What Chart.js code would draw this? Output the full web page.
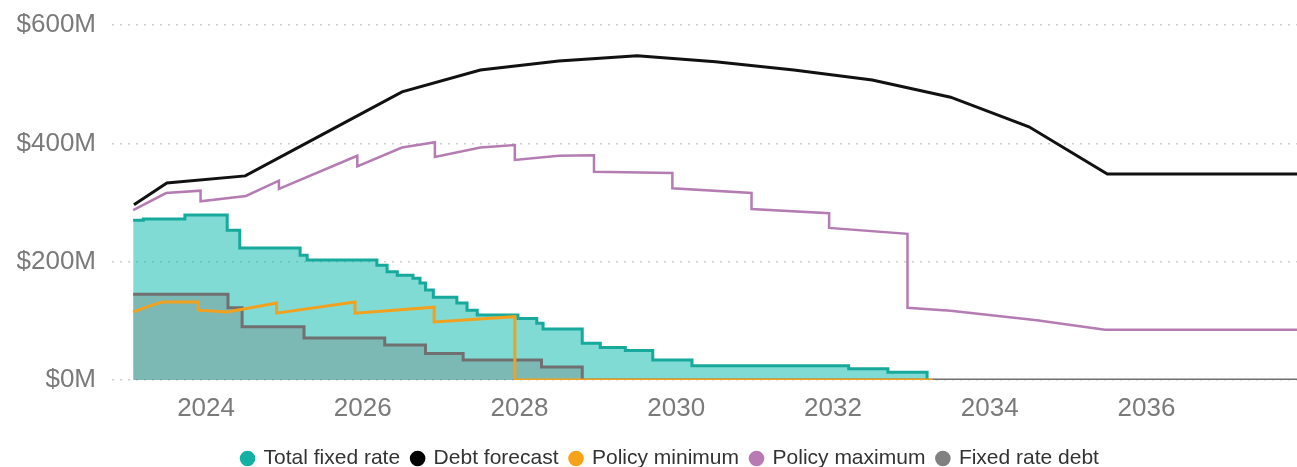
<!DOCTYPE html>
<html>
<head>
<meta charset="utf-8">
<script src="https://cdn.jsdelivr.net/npm/chart.js@4"></script>
<style>
  html, body { margin: 0; padding: 0; background: #fff; overflow: hidden; }
  #wrap { position: relative; width: 1297px; height: 479px; }
</style>
</head>
<body>
<div id="wrap"><canvas id="debtChart"></canvas></div>
<script>
// values in $M, x positions in decimal years
const xTickYears = [2024, 2026, 2028, 2030, 2032, 2034, 2036];
const yTicks = [0, 200, 400, 600];

const debtYears = [2023.08, 2023.5, 2024.5, 2025.5, 2026.5, 2027.5, 2028.5, 2029.5, 2030.5, 2031.5, 2032.5, 2033.5, 2034.5, 2035.5, 2036.5, 2037.92];
const debtForecast = [296, 333, 345, 416, 487, 524, 539, 548, 538, 524, 507, 478, 428, 348, 348, 348];

const totalFixedYears = [2023.07, 2023.2, 2023.73, 2024.27, 2024.43, 2025.2, 2025.29, 2026.18, 2026.31, 2026.44, 2026.64, 2026.73, 2026.8, 2026.9, 2027.2, 2027.33, 2027.46, 2027.98, 2028.22, 2028.3, 2028.8, 2029.03, 2029.35, 2029.7, 2030.2, 2032.2, 2032.7, 2033.2];
const totalFixedRate = [270, 272, 279, 253, 223, 211, 203, 194, 183, 177, 172, 164, 152, 140, 130, 118, 110, 104, 96, 86, 62, 55, 50, 34, 24, 19, 13, 0];

const fixedDebtYears = [2023.07, 2024.28, 2024.46, 2025.25, 2026.28, 2026.8, 2027.28, 2028.28, 2028.8, 2037.92];
const fixedRateDebt = [145, 122, 90, 71, 59, 45, 34, 22, 0, 0];

const policyMinYears = [2023.07, 2023.32, 2023.45, 2023.9, 2023.9, 2024.27, 2024.9, 2024.9, 2025.9, 2025.9, 2026.91, 2026.91, 2027.94, 2027.94, 2033.27];
const policyMinimum = [115, 127, 132, 132, 118, 115, 130, 113, 132, 113, 123, 98, 107, 0, 0];

const policyMaxYears = [2023.07, 2023.49, 2023.93, 2023.93, 2024.51, 2024.93, 2024.93, 2025.93, 2025.93, 2026.5, 2026.92, 2026.92, 2027.5, 2027.94, 2027.94, 2028.5, 2028.95, 2028.95, 2029.95, 2029.95, 2030.96, 2030.96, 2031.95, 2031.95, 2032.95, 2032.95, 2033.5, 2034.6, 2035.47, 2037.92];
const policyMaximum = [287, 316, 320, 302, 311, 337, 323, 379, 361, 393, 402, 377, 393, 397, 372, 379, 380, 352, 350, 324, 316, 289, 282, 257, 247, 122, 117, 101, 85, 85];

function toPoints(xs, ys) {
    return xs.map(function (x, i) { return { x: x, y: ys[i] }; });
}

// nudge the legend row a little to the right, like the original
const legendShift = {
    id: 'legendShift',
    afterLayout: function (chart) {
        if (chart.legend) {
            chart.legend.left += 22;
            chart.legend.right += 22;
        }
    }
};

const ctx = document.getElementById('debtChart').getContext('2d');
const chart = new Chart(ctx, {
    type: 'line',
    plugins: [legendShift],
    data: {
        datasets: [
            {
                label: 'Total fixed rate',
                data: toPoints(totalFixedYears, totalFixedRate),
                borderColor: '#17a99b',
                backgroundColor: 'rgba(1, 184, 170, 0.5)',
                legendColor: '#14b0a3',
                borderWidth: 3,
                stepped: true,
                fill: 'origin',
                order: 5
            },
            {
                label: 'Debt forecast',
                data: toPoints(debtYears, debtForecast),
                borderColor: '#111111',
                backgroundColor: '#111111',
                legendColor: '#000000',
                borderWidth: 3,
                fill: false,
                order: 1
            },
            {
                label: 'Policy minimum',
                data: toPoints(policyMinYears, policyMinimum),
                borderColor: '#f2a11f',
                backgroundColor: '#f2a11f',
                legendColor: '#f7a21b',
                borderWidth: 3,
                fill: false,
                order: 3
            },
            {
                label: 'Policy maximum',
                data: toPoints(policyMaxYears, policyMaximum),
                borderColor: '#b47cb2',
                backgroundColor: '#b47cb2',
                legendColor: '#b77ab5',
                borderWidth: 2.5,
                fill: false,
                order: 2
            },
            {
                label: 'Fixed rate debt',
                data: toPoints(fixedDebtYears, fixedRateDebt),
                borderColor: '#707070',
                backgroundColor: 'rgba(120, 120, 120, 0.35)',
                legendColor: '#808080',
                borderWidth: 3,
                stepped: true,
                fill: 'origin',
                order: 4
            }
        ]
    },
    options: {
        responsive: true,
        maintainAspectRatio: false,
        animation: false,
        layout: { padding: { top: 25, right: 0, left: 0, bottom: 0 } },
        elements: { point: { radius: 0 }, line: { tension: 0 } },
        plugins: {
            tooltip: { enabled: false },
            legend: {
                position: 'bottom',
                labels: {
                    usePointStyle: true,
                    pointStyle: 'circle',
                    boxWidth: 11,
                    boxHeight: 11,
                    padding: 12,
                    color: '#333333',
                    font: { family: 'Liberation Sans, Arial, sans-serif', size: 21 },
                    sort: function (a, b) { return a.datasetIndex - b.datasetIndex; },
                    generateLabels: function (chart) {
                        const items = Chart.defaults.plugins.legend.labels.generateLabels(chart);
                        items.forEach(function (item) {
                            const ds = chart.data.datasets[item.datasetIndex];
                            item.fillStyle = ds.legendColor;
                            item.strokeStyle = ds.legendColor;
                            item.lineWidth = 0;
                        });
                        return items;
                    }
                }
            }
        },
        scales: {
            x: {
                type: 'linear',
                min: 2022.8,
                max: 2037.92,
                grid: { display: false, drawTicks: false },
                border: { display: false },
                afterBuildTicks: function (scale) {
                    scale.ticks = xTickYears.map(function (v) { return { value: v }; });
                },
                afterFit: function (scale) {
                    scale.height = 56;
                    scale.paddingLeft = 0;
                    scale.paddingRight = 0;
                },
                ticks: {
                    padding: 13,
                    color: '#7a7a7a',
                    font: { family: 'Liberation Sans, Arial, sans-serif', size: 26 },
                    callback: function (v) { return String(v); }
                }
            },
            y: {
                min: 0,
                max: 600,
                afterBuildTicks: function (scale) {
                    scale.ticks = yTicks.map(function (v) { return { value: v }; });
                },
                afterFit: function (scale) {
                    scale.width = 112;
                    scale.paddingTop = 0;
                    scale.paddingBottom = 0;
                },
                grid: { color: '#cfcfcf', lineWidth: 1.5, drawTicks: false },
                border: { display: false, dash: [2, 6] },
                ticks: {
                    padding: 16,
                    color: '#7a7a7a',
                    font: { family: 'Liberation Sans, Arial, sans-serif', size: 26 },
                    callback: function (v) { return '$' + v + 'M'; }
                }
            }
        }
    }
});
</script>
</body>
</html>
